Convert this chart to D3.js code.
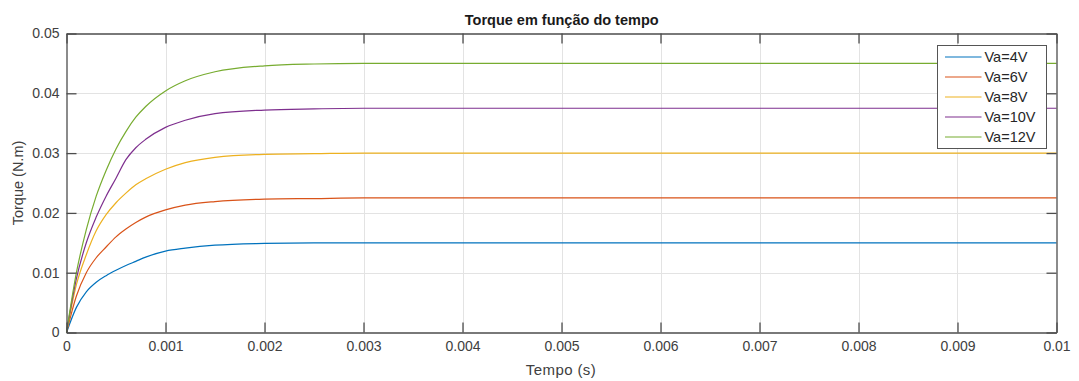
<!DOCTYPE html>
<meta charset="utf-8">
<style>
    body { margin: 0; background: #fff; }
    text { font-family: "Liberation Sans", Arial, sans-serif; }
    .grid line { stroke: #e3e3e3; stroke-width: 1px; }
    .series { fill: none; stroke-width: 1.2px; }
</style>

<svg width="1079" height="381"></svg>

<script src="https://cdn.jsdelivr.net/npm/d3@7/dist/d3.min.js"></script>
<script>
    // tempo (s) dos pontos
    var tempo = [0, 0.0001, 0.0002, 0.0003, 0.0004, 0.0005, 0.0006, 0.0007, 0.0008,
                 0.001, 0.0012, 0.0015, 0.002, 0.0025, 0.003, 0.004, 0.006, 0.01];

    var va4  = [0, 0.0042, 0.0068, 0.0084, 0.0095, 0.0104, 0.0112, 0.0119, 0.0126,
                0.0136, 0.0141, 0.0146, 0.0149, 0.0150, 0.0150, 0.0150, 0.0150, 0.0150];
    var va6  = [0, 0.0061, 0.0100, 0.0125, 0.0143, 0.0160, 0.0173, 0.0184, 0.0193,
                0.0205, 0.0213, 0.0219, 0.0223, 0.0224, 0.0225, 0.0225, 0.0225, 0.0225];
    var va8  = [0, 0.0080, 0.0130, 0.0170, 0.0197, 0.0217, 0.0233, 0.0247, 0.0257,
                0.0273, 0.0284, 0.0293, 0.0298, 0.0299, 0.0300, 0.0300, 0.0300, 0.0300];
    var va10 = [0, 0.0090, 0.0150, 0.0193, 0.0228, 0.0258, 0.0289, 0.0309, 0.0323,
                0.0343, 0.0355, 0.0366, 0.0372, 0.0374, 0.0375, 0.0375, 0.0375, 0.0375];
    var va12 = [0, 0.0100, 0.0172, 0.0228, 0.0271, 0.0307, 0.0336, 0.0360, 0.0378,
                0.0404, 0.0421, 0.0436, 0.0446, 0.0449, 0.0450, 0.0450, 0.0450, 0.0450];

    var nomes = ["Va=4V", "Va=6V", "Va=8V", "Va=10V", "Va=12V"];
    var cores = ["#0072BD", "#D95319", "#EDB120", "#7E2F8E", "#77AC30"];
    var xTicks = [0, 0.001, 0.002, 0.003, 0.004, 0.005, 0.006, 0.007, 0.008, 0.009, 0.01];
    var yTicks = [0, 0.01, 0.02, 0.03, 0.04, 0.05];

    (function () {
        var svg = d3.select("svg"),
            left = 66.5, right = 1056.5, top = 33.5, bottom = 332.5,
            x = d3.scaleLinear().domain([0, 0.01]).range([left, right]),
            y = d3.scaleLinear().domain([0, 0.05]).range([bottom, top]),
            series = [va4, va6, va8, va10, va12],
            fmt = function (d) { return d === 0 ? "0" : String(+d.toFixed(3)); };

        // grade
        var grid = svg.append("g").attr("class", "grid");
        grid.selectAll(".gx").data(xTicks.slice(1, -1)).enter().append("line")
            .attr("x1", function (d) { return Math.round(x(d)) + 0.5; })
            .attr("x2", function (d) { return Math.round(x(d)) + 0.5; })
            .attr("y1", top).attr("y2", bottom);
        grid.selectAll(".gy").data(yTicks.slice(1, -1)).enter().append("line")
            .attr("y1", function (d) { return Math.round(y(d)) + 0.5; })
            .attr("y2", function (d) { return Math.round(y(d)) + 0.5; })
            .attr("x1", left).attr("x2", right);

        // curvas
        var line = d3.line()
            .x(function (d, i) { return x(tempo[i]); })
            .y(function (d) { return y(d); })
            .curve(d3.curveMonotoneX);

        svg.selectAll(".series").data(series).enter().append("path")
            .attr("class", "series")
            .attr("stroke", function (d, i) { return cores[i]; })
            .attr("d", line);

        // eixos (ticks para dentro, nos quatro lados)
        var tk = 10, axisColor = "#4d4d4d";
        function styleAxis(g) {
            g.select(".domain").attr("stroke", axisColor).attr("stroke-width", 1.3);
            g.selectAll(".tick line").attr("stroke", axisColor).attr("stroke-width", 1.3);
            g.selectAll(".tick text").attr("fill", "#404040").style("font-size", "14px");
        }
        svg.append("g").attr("transform", "translate(0," + bottom + ")")
            .call(d3.axisBottom(x).tickValues(xTicks).tickFormat(fmt)
                .tickSizeInner(-tk).tickSizeOuter(0).tickPadding(9))
            .call(styleAxis);
        svg.append("g").attr("transform", "translate(0," + top + ")")
            .call(d3.axisTop(x).tickValues(xTicks).tickFormat("")
                .tickSizeInner(-tk).tickSizeOuter(0))
            .call(styleAxis);
        svg.append("g").attr("transform", "translate(" + left + ",0)")
            .call(d3.axisLeft(y).tickValues(yTicks).tickFormat(fmt)
                .tickSizeInner(-tk).tickSizeOuter(0).tickPadding(7))
            .call(styleAxis);
        svg.append("g").attr("transform", "translate(" + right + ",0)")
            .call(d3.axisRight(y).tickValues(yTicks).tickFormat("")
                .tickSizeInner(-tk).tickSizeOuter(0))
            .call(styleAxis);

        // títulos
        svg.append("text")
            .attr("x", 561.7).attr("y", 25)
            .attr("text-anchor", "middle")
            .style("font-size", "14.5px").style("font-weight", "bold").attr("fill", "#1a1a1a")
            .text("Torque em função do tempo");
        svg.append("text")
            .attr("x", 561).attr("y", 375)
            .attr("text-anchor", "middle")
            .style("font-size", "15px").style("letter-spacing", "0.4px").attr("fill", "#404040")
            .text("Tempo (s)");
        svg.append("text")
            .attr("transform", "translate(23," + (top + bottom) / 2 + ") rotate(-90)")
            .attr("text-anchor", "middle")
            .style("font-size", "14.5px").attr("fill", "#404040")
            .text("Torque (N.m)");

        // legenda
        var lg = svg.append("g").attr("transform", "translate(937.5,45.5)");
        lg.append("rect").attr("width", 109).attr("height", 103)
            .attr("fill", "#fff").attr("stroke", "#555").attr("stroke-width", 1);
        var item = lg.selectAll(".item").data(nomes).enter().append("g")
            .attr("transform", function (d, i) { return "translate(0," + (11.5 + i * 20) + ")"; });
        item.append("line").attr("x1", 7.5).attr("x2", 44)
            .attr("stroke", function (d, i) { return cores[i]; }).attr("stroke-width", 1.2);
        item.append("text").attr("x", 47).attr("y", 5)
            .style("font-size", "14.5px").attr("fill", "#262626")
            .text(function (d) { return d; });
    })();
</script>
